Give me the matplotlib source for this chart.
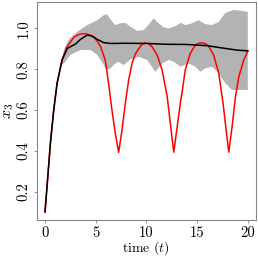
import matplotlib
matplotlib.use("Agg")
import matplotlib.pyplot as plt
import numpy as np

plt.rcParams["font.family"] = "serif"
plt.rcParams["font.serif"] = ["cmr10"]
plt.rcParams["mathtext.fontset"] = "cm"
plt.rcParams["axes.formatter.use_mathtext"] = True

# red curve (single trajectory)
t_red = [0, 0.2, 0.53, 0.86, 1.19, 1.68, 2.18, 2.84, 3.2, 3.5, 3.85, 4.16, 4.5, 4.82,
         5.15, 5.48, 5.94, 6.27, 6.6, 6.93, 7.26, 7.59, 7.92, 8.25, 8.58, 8.91, 9.08,
         9.41, 9.65, 9.9, 10.2, 10.56, 11.06, 11.55, 12.05, 12.44, 12.7, 13.04, 13.37,
         13.5, 13.83, 14.32, 14.82, 15.15, 15.48, 15.8, 16.14, 16.63, 17.13, 17.56, 17.9,
         18.12, 18.45, 18.78, 19.11, 19.6, 20.0]
x3_red = [0.10, 0.224, 0.436, 0.60, 0.73, 0.845, 0.91, 0.956, 0.967, 0.972, 0.974, 0.972,
          0.966, 0.956, 0.937, 0.91, 0.845, 0.73, 0.60, 0.485, 0.392, 0.50, 0.632, 0.747,
          0.828, 0.875, 0.888, 0.913, 0.924, 0.929, 0.925, 0.91, 0.869, 0.796, 0.665, 0.50,
          0.393, 0.52, 0.642, 0.68, 0.796, 0.877, 0.918, 0.927, 0.929, 0.925, 0.913, 0.869,
          0.78, 0.632, 0.485, 0.393, 0.518, 0.665, 0.763, 0.845, 0.89]

# black curve (mean)
t_mean = [0, 0.2, 0.53, 0.86, 1.19, 1.68, 2.18, 2.5, 3.0, 3.5, 4.16, 4.65, 5.15, 5.8,
          6.47, 8, 10, 12, 14, 16, 18, 19, 20]
x3_mean = [0.10, 0.224, 0.436, 0.60, 0.73, 0.845, 0.90, 0.91, 0.923, 0.946, 0.967, 0.962,
           0.946, 0.93, 0.926, 0.927, 0.926, 0.922, 0.921, 0.915, 0.900, 0.893, 0.890]

# grey band
t_up = [1.5, 1.9, 2.35, 3.17, 4.16, 5.15, 5.8, 6.1, 6.44, 6.93, 7.43, 7.92, 8.42, 9.08,
        9.73, 10.2, 10.7, 11.2, 11.7, 12.2, 12.87, 13.37, 13.86, 14.49, 15.15, 15.8,
        16.47, 17.13, 17.79, 18.6, 19.44, 20.0]
x3_up = [0.81, 0.90, 0.946, 0.983, 1.016, 1.04, 1.065, 1.069, 1.045, 1.016, 1.025, 1.027,
         1.008, 0.988, 0.992, 1.016, 1.049, 1.025, 1.005, 1.0, 1.011, 1.027, 1.016, 1.025,
         1.04, 1.021, 1.016, 1.032, 1.076, 1.09, 1.086, 1.081]
t_lo = [1.5, 2.0, 2.5, 3.5, 4.5, 5.15, 5.8, 6.1, 6.44, 6.93, 7.26, 7.75, 8.42, 9.24,
        10.07, 10.89, 11.55, 12.22, 12.7, 13.37, 14.16, 14.82, 15.32, 15.8, 16.47, 17.13,
        17.79, 18.45, 19.44, 20.0]
x3_lo = [0.81, 0.836, 0.87, 0.894, 0.894, 0.87, 0.82, 0.796, 0.804, 0.828, 0.836, 0.82,
         0.848, 0.861, 0.845, 0.787, 0.828, 0.845, 0.836, 0.812, 0.828, 0.812, 0.787,
         0.804, 0.812, 0.78, 0.73, 0.698, 0.698, 0.698]

xticks = [0, 5, 10, 15, 20]
yticks = [0.2, 0.4, 0.6, 0.8, 1.0]

fig = plt.figure(figsize=(2.58, 2.58), dpi=100)
ax = fig.add_axes([0.143, 0.147, 0.849, 0.845])

ax.fill(np.concatenate([t_up, t_lo[::-1]]), np.concatenate([x3_up, x3_lo[::-1]]),
        color="#b3b3b3", lw=0)
ax.plot(t_red, x3_red, color="red", lw=1.1)
ax.plot(t_mean, x3_mean, color="black", lw=1.1)

ax.set_xlim(-0.8, 20.8)
ax.set_ylim(0.06, 1.129)
ax.set_xticks(xticks)
ax.set_xticklabels([str(v) for v in xticks])
ax.set_yticks(yticks)
ax.set_yticklabels([f"{v:.1f}" for v in yticks], rotation=90, va="center")

for s in ax.spines.values():
    s.set_color("#888888")
    s.set_linewidth(0.8)
ax.tick_params(length=2.5, width=0.6, color="#888888", labelsize=10.5, pad=2)

ax.set_xlabel("time ($t$)", fontsize=10, va="center")
ax.set_ylabel("$x_3$", fontsize=11.5, labelpad=1)
ax.xaxis.set_label_coords(0.5, -0.13)

fig.savefig("out.png", dpi=100)
